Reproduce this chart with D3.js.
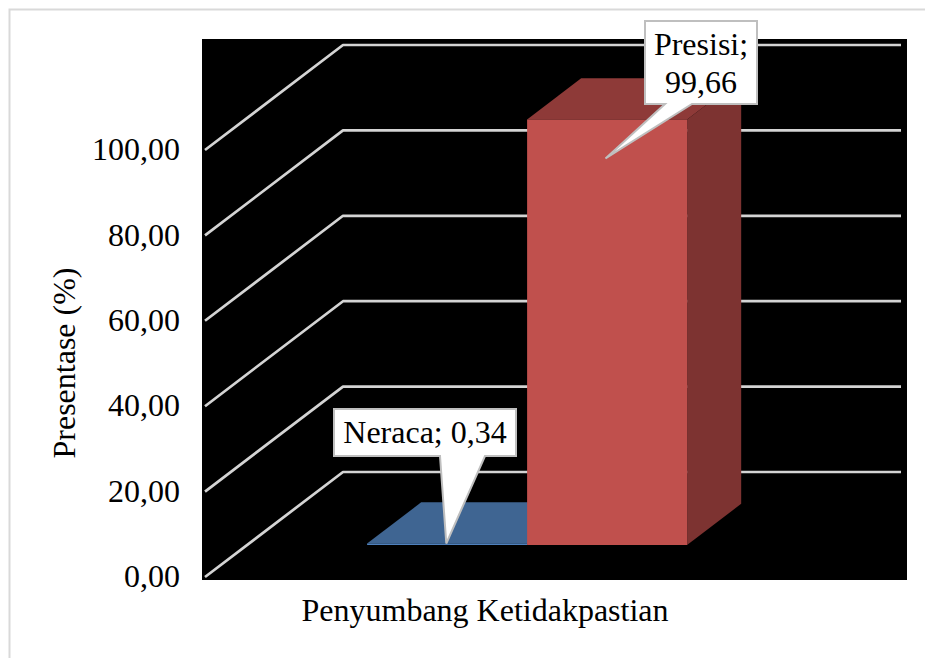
<!DOCTYPE html>
<html>
<head>
<meta charset="utf-8">
<script src="https://cdn.jsdelivr.net/npm/d3@7"></script>
<style>
html, body { margin: 0; padding: 0; background: #fff; }
svg { display: block; }
text { font-family: "Liberation Serif", "Times New Roman", serif; fill: #000; }
</style>
</head>
<body>
<svg id="chart" width="925" height="658"></svg>
<script>
// Uncertainty contributors, in percent
const seriesNames = ["Neraca", "Presisi"];
const seriesValues = [0.34, 99.66];
const faceColors = ["#4F81BD", "#C0504D"];
const topColors = ["#3F6592", "#8E3A38"];
const sideColors = ["#375A82", "#7D3331"];
const tickValues = [0, 20, 40, 60, 80, 100];
const categoryLabel = "Penyumbang Ketidakpastian";
const valueLabel = "Presentase (%)";
const calloutLines = [["Neraca; 0,34"], ["Presisi;", "99,66"]];

const svg = d3.select("#chart");
const fontSize = 32;
const comma = d3.formatLocale({ decimal: ",", thousands: ".", grouping: [3], currency: ["", ""] }).format(".2f");

// Chart frame and dark plot backdrop
svg.append("path").attr("d", "M925,9.5H9.5V658").attr("fill", "none").attr("stroke", "#D9D9D9").attr("stroke-width", 2);
svg.append("rect").attr("x", 202).attr("y", 39).attr("width", 705).attr("height", 541).attr("fill", "#000");

// Oblique projection: values run up the front plane, depth runs 0..1 towards the back wall
const y = d3.scaleLinear().domain([0, 100]).range([577, 150]);
const depthX = 138, depthY = -105;
const wallRight = 901;
const project = (px, value, depth) => [px + depthX * depth, y(value) + depthY * depth];

// Series columns sit in the middle of the floor
const depthFront = 0.3051, depthBack = 0.697;
const xBand = d3.scaleBand().domain(seriesNames).range([206, 206 + wallRight - 343]).paddingInner(0).paddingOuter(0.74375);

// Gridlines: side wall then back wall
const line = d3.line();
svg.append("g").selectAll("path").data(tickValues).join("path")
  .attr("d", v => line([project(205, v, 0), project(205, v, 1), project(wallRight - depthX, v, 1)]))
  .attr("fill", "none").attr("stroke", "#D4D4D4").attr("stroke-width", 2.7).attr("stroke-linejoin", "round");

// Value axis labels
const axis = svg.append("g").attr("transform", "translate(180,0)")
  .call(d3.axisLeft(y).tickValues(tickValues).tickSize(0).tickPadding(0).tickFormat(comma));
axis.select(".domain").remove();
axis.selectAll("text").attr("font-size", fontSize).attr("font-family", "Liberation Serif").attr("fill", "#000").attr("dy", "0.3em");

// Columns: top, side and front faces
const bars = svg.append("g").selectAll("g").data(seriesNames).join("g");
const poly = pts => line(pts) + "Z";
bars.append("path").attr("fill", (d, i) => sideColors[i]).attr("d", (d, i) => {
  const r = xBand(d) + xBand.bandwidth();
  return poly([project(r, 0, depthFront), project(r, 0, depthBack), project(r, seriesValues[i], depthBack), project(r, seriesValues[i], depthFront)]);
});
bars.append("path").attr("fill", (d, i) => topColors[i]).attr("d", (d, i) => {
  const l = xBand(d), r = l + xBand.bandwidth(), v = seriesValues[i];
  return poly([project(l, v, depthFront), project(r, v, depthFront), project(r, v, depthBack), project(l, v, depthBack)]);
});
bars.append("path").attr("fill", (d, i) => faceColors[i]).attr("d", (d, i) => {
  const l = xBand(d), r = l + xBand.bandwidth(), v = seriesValues[i];
  return poly([project(l, 0, depthFront), project(r, 0, depthFront), project(r, v, depthFront), project(l, v, depthFront)]);
});

// Callout boxes with pointers anchored on their columns
const callouts = [
  { box: [334, 409, 182, 47], gap: [440, 485], tipFrac: 0.495, tipDrop: 0, baselines: [443], cx: 425 },
  { box: [645, 21, 112, 83], gap: [665, 692], tipFrac: 0.49, tipDrop: 39, baselines: [55, 93], cx: 701 }
];
const boxes = svg.append("g").selectAll("g").data(callouts).join("g");
boxes.append("path").attr("fill", "#fff").attr("stroke", "#BFBFBF").attr("stroke-width", 2).attr("stroke-linejoin", "miter")
  .attr("d", (c, i) => {
    const [bx, by, bw, bh] = c.box;
    const name = seriesNames[i];
    const [tx, ty] = project(xBand(name) + xBand.bandwidth() * c.tipFrac, seriesValues[i], depthFront);
    return line([[bx, by], [bx + bw, by], [bx + bw, by + bh], [c.gap[1], by + bh], [tx, ty + c.tipDrop], [c.gap[0], by + bh], [bx, by + bh]]) + "Z";
  });
boxes.each(function (c, i) {
  d3.select(this).selectAll("text").data(calloutLines[i]).join("text")
    .attr("x", c.cx).attr("y", (d, j) => c.baselines[j])
    .attr("text-anchor", "middle").attr("font-size", fontSize).text(d => d);
});

// Axis titles
svg.append("text").attr("x", 485).attr("y", 621).attr("text-anchor", "middle").attr("font-size", fontSize).text(categoryLabel);
svg.append("text").attr("transform", "translate(75,363) rotate(-90)").attr("text-anchor", "middle").attr("font-size", fontSize).text(valueLabel);
</script>
</body>
</html>
